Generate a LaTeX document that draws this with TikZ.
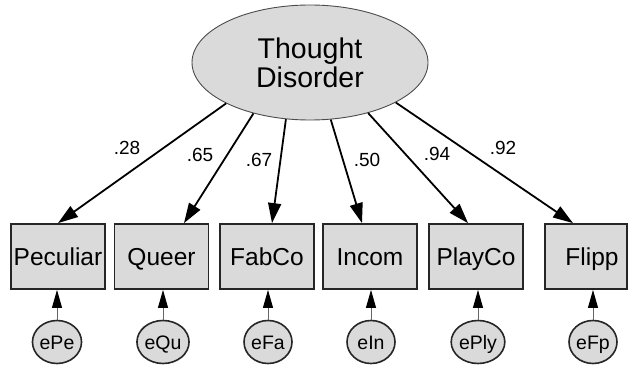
\documentclass[tikz,border=0pt]{standalone}
\usepackage{fontspec}
\setmainfont{Liberation Sans}
\usetikzlibrary{shapes.geometric,arrows.meta}
\definecolor{lgray}{RGB}{218,218,218}
\tikzset{
  latent/.style={ellipse, draw=black!70, line width=0.9pt, fill=lgray, minimum width=236pt, minimum height=115pt, inner sep=0pt, align=center, font=\fontsize{28.5}{29}\selectfont},
  obs/.style={rectangle, draw=black!85, line width=1.8pt, fill=lgray, minimum width=94pt, minimum height=65pt, inner sep=0pt, text height=17.5pt, text depth=0pt, font=\fontsize{24.5}{26}\selectfont},
  errv/.style={ellipse, draw=black!85, line width=1.6pt, fill=lgray, minimum width=48pt, minimum height=43pt, inner sep=0pt, text height=14pt, text depth=0pt, font=\fontsize{19.5}{21}\selectfont},
  load/.style={-{Triangle[length=20pt,width=13pt]}, line width=1.8pt, black},
  erra/.style={draw=black!60, line width=1pt, -{Triangle[length=18pt,width=10pt,fill=black,color=black]}},
  lbl/.style={inner sep=0pt, font=\fontsize{19}{21}\selectfont}
}
\begin{document}
\begin{tikzpicture}[x=1pt,y=-1pt]
\useasboundingbox (0,0) rectangle (629,366);
\node[latent] (td) at (310,62.5) {Thought\\Disorder};

\node[obs] (pe) at (58,256.5) {Peculiar};
\node[obs] (qu) at (161.5,256.5) {Queer};
\node[obs] (fa) at (267,256.5) {FabCo};
\node[obs] (in) at (370,256.5) {Incom};
\node[obs] (pl) at (476,256.5) {PlayCo};
\node[obs, minimum width=82pt] (fp) at (586,256.5) {\hspace*{12pt}Flipp};

\node[errv] (ePe) at (57,342) {ePe};
\node[errv] (eQu) at (163,342) {eQu};
\node[errv] (eFa) at (268,342) {eFa};
\node[errv] (eIn) at (371,342) {eIn};
\node[errv] (ePly) at (478,342) {ePly};
\node[errv] (eFp) at (593,342) {eFp};

\draw[load] (td.206) -- (pe.north);
\draw[load] (td.222) -- ([xshift=22.5pt]qu.north);
\draw[load] (td.247) -- ([xshift=5pt]fa.north);
\draw[load] (td.290) -- ([xshift=-8pt]in.north);
\draw[load] (td.319) -- ([xshift=-8pt]pl.north);
\draw[load] (td.335) -- ([xshift=-13pt]fp.north);

\node[lbl] (l1) at (127,148) {.28};
\node[lbl] (l2) at (200,155) {.65};
\node[lbl] (l3) at (259,160) {.67};
\node[lbl] (l4) at (367,160) {.50};
\node[lbl] (l5) at (437,154) {.94};
\node[lbl] (l6) at (503,148) {.92};

\draw[erra] (ePe.north) -- (ePe.north |- pe.south);
\draw[erra] (eQu.north) -- (eQu.north |- qu.south);
\draw[erra] (eFa.north) -- (eFa.north |- fa.south);
\draw[erra] (eIn.north) -- (eIn.north |- in.south);
\draw[erra] (ePly.north) -- (ePly.north |- pl.south);
\draw[erra] (eFp.north) -- (eFp.north |- fp.south);
\end{tikzpicture}
\end{document}
